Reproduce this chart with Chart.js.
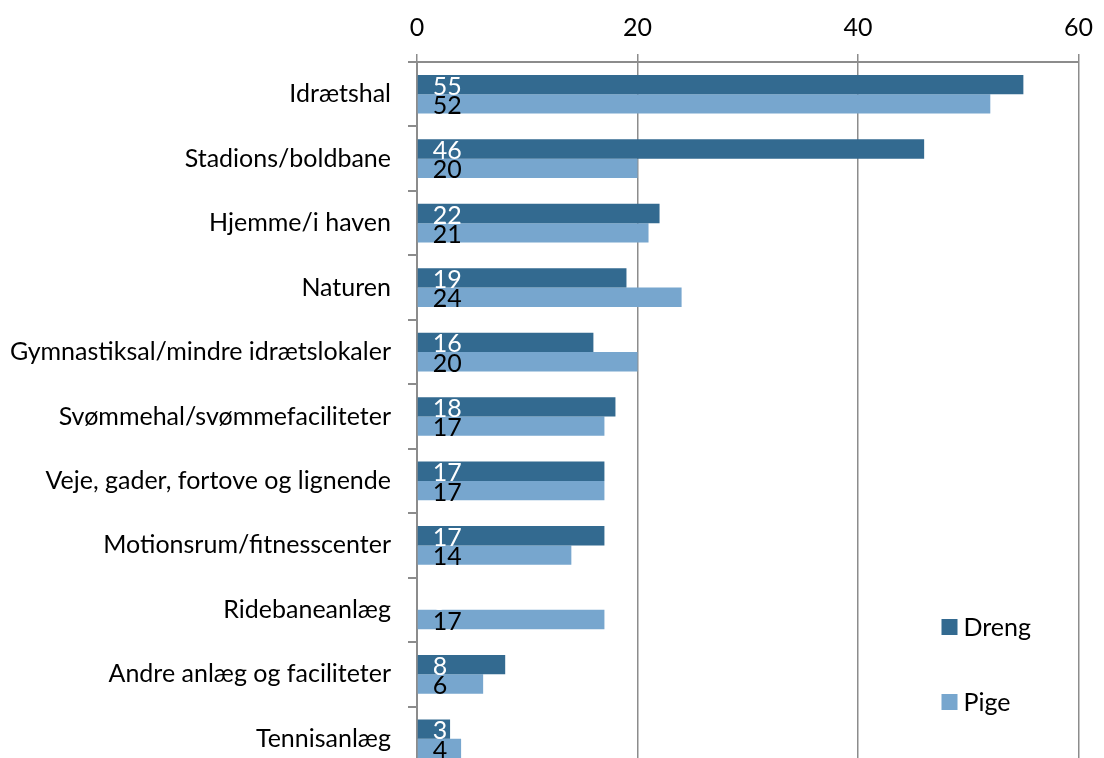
<!DOCTYPE html>
<html>
<head>
<meta charset="utf-8">
<script src="https://cdn.jsdelivr.net/npm/chart.js@4/dist/chart.umd.min.js"></script>
<style>
  html, body { margin: 0; padding: 0; background: #ffffff; overflow: hidden; }
  body { width: 1104px; height: 758px; }
  #wrap { position: relative; width: 1104px; height: 772px; }
</style>
</head>
<body>
<div id="wrap"><canvas id="c"></canvas></div>
<script>
const categories = [
  "Idrætshal",
  "Stadions/boldbane",
  "Hjemme/i haven",
  "Naturen",
  "Gymnastiksal/mindre idrætslokaler",
  "Svømmehal/svømmefaciliteter",
  "Veje, gader, fortove og lignende",
  "Motionsrum/fitnesscenter",
  "Ridebaneanlæg",
  "Andre anlæg og faciliteter",
  "Tennisanlæg"
];
const seriesNames = ["Dreng", "Pige"];
const drengValues = [55, 46, 22, 19, 16, 18, 17, 17, 0, 8, 3];
const pigeValues  = [52, 20, 21, 24, 20, 17, 17, 14, 17, 6, 4];
const xTicks = [0, 20, 40, 60];

const FONT = "Lato";
const FS = 25;
const GRID = "#8c8c8c";

const labelPlugin = {
  id: "barLabels",
  afterDatasetsDraw(chart) {
    const ctx = chart.ctx;
    ctx.save();
    ctx.font = FS + "px " + FONT;
    ctx.textAlign = "left";
    ctx.textBaseline = "middle";
    chart.data.datasets.forEach((ds, di) => {
      const meta = chart.getDatasetMeta(di);
      meta.data.forEach((bar, i) => {
        const v = ds.data[i];
        if (v === null || v === undefined) return;
        ctx.fillStyle = ds.labelColor;
        ctx.fillText(String(v), bar.base + 15, bar.y + 2);
      });
    });
    ctx.restore();
  }
};

const legendPlugin = {
  id: "customLegend",
  afterDraw(chart) {
    const ctx = chart.ctx;
    const ca = chart.chartArea;
    ctx.save();
    ctx.font = FS + "px " + FONT;
    ctx.textAlign = "left";
    ctx.textBaseline = "middle";
    chart.data.datasets.forEach((ds, di) => {
      const bx = ca.right - 137;
      const cy = 627 + di * 75;
      ctx.fillStyle = ds.backgroundColor;
      ctx.fillRect(bx, cy - 8, 16, 16);
      ctx.fillStyle = "#000000";
      ctx.fillText(ds.label, bx + 22, cy + 1);
    });
    ctx.restore();
  }
};

new Chart(document.getElementById("c"), {
  type: "bar",
  data: {
    labels: categories,
    datasets: [
      { label: seriesNames[0], data: drengValues, backgroundColor: "#336a90", labelColor: "#ffffff",
        categoryPercentage: 0.6, barPercentage: 1.0, borderWidth: 0 },
      { label: seriesNames[1], data: pigeValues, backgroundColor: "#77a6ce", labelColor: "#000000",
        categoryPercentage: 0.6, barPercentage: 1.0, borderWidth: 0 }
    ]
  },
  options: {
    indexAxis: "y",
    responsive: true,
    maintainAspectRatio: false,
    animation: false,
    layout: { padding: { top: 2, left: 0, right: 17, bottom: 1 } },
    plugins: { legend: { display: false }, tooltip: { enabled: false } },
    scales: {
      x: {
        position: "top",
        min: 0, max: 60,
        afterBuildTicks(scale) { scale.ticks = xTicks.map(v => ({ value: v })); },
        ticks: { font: { family: FONT, size: FS }, color: "#000000", padding: 11 },
        grid: { color: GRID, lineWidth: 1.5, tickLength: 8, drawTicks: true },
        border: { display: true, color: GRID, width: 2 }
      },
      y: {
        afterFit(scale) { scale.width = 417; scale.paddingTop = 0; scale.paddingBottom = 0; },
        ticks: { font: { family: FONT, size: FS }, color: "#000000", padding: 17, autoSkip: false },
        grid: { offset: true, drawOnChartArea: false, drawTicks: true, tickLength: 9, color: GRID, lineWidth: 2 },
        border: { display: true, color: GRID, width: 2 }
      }
    }
  },
  plugins: [labelPlugin, legendPlugin]
});
</script>
</body>
</html>
